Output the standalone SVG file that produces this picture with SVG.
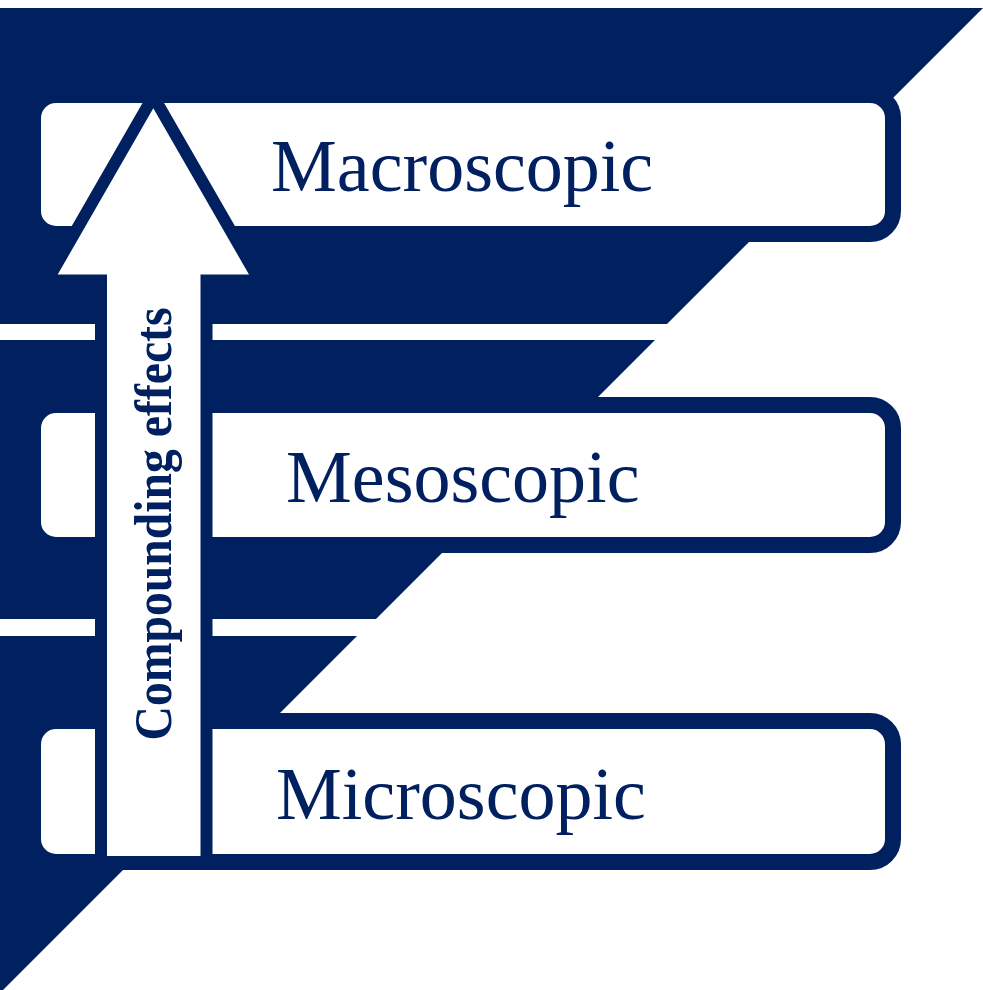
<svg xmlns="http://www.w3.org/2000/svg" width="983" height="990" viewBox="0 0 983 990">
  <style>
    .band { fill: #002060; }
    .box { fill: #ffffff; stroke: #002060; stroke-width: 16; }
    .label { font-family: "Liberation Serif", "Times New Roman", serif; font-size: 74px; fill: #002060; }
    .arrow-edge { fill: #002060; stroke: #002060; stroke-width: 24; stroke-linejoin: miter; stroke-miterlimit: 6; }
    .arrow-body { fill: #ffffff; stroke: none; }
    .arrow-text { font-family: "Liberation Serif", "Times New Roman", serif; font-size: 53px; font-weight: bold; fill: #002060; }
  </style>
  <defs>
    <polygon id="arrow-shape" points="107,856 107,274.5 57.7,274.5 153.3,108.3 249,274.5 200.5,274.5 200.5,856"/>
  </defs>

  <rect x="0" y="0" width="983" height="990" fill="#ffffff"/>

  <!-- stepped navy bands with 45-degree right edges -->
  <g id="bands">
    <polygon class="band" points="0,8 983,8 667,324 0,324"/>
    <polygon class="band" points="0,340 655,340 376,619 0,619"/>
    <polygon class="band" points="0,636 357,636 3,990 0,990"/>
  </g>

  <g id="macroscopic">
    <rect class="box" x="33" y="95" width="860" height="139" rx="23" ry="23"/>
    <text class="label" x="271" y="191">Macroscopic</text>
  </g>

  <g id="mesoscopic">
    <rect class="box" x="33" y="405" width="860" height="140" rx="23" ry="23"/>
    <text class="label" x="286" y="502">Mesoscopic</text>
  </g>

  <g id="microscopic">
    <rect class="box" x="33" y="721" width="860" height="141" rx="23" ry="23"/>
    <text class="label" x="276" y="819">Microscopic</text>
  </g>

  <!-- upward arrow across all three levels -->
  <g id="connectors">
    <use href="#arrow-shape" class="arrow-edge"/>
    <use href="#arrow-shape" class="arrow-body"/>
    <text class="arrow-text" x="171" y="740.5" transform="rotate(-90 171 740.5)" textLength="433" lengthAdjust="spacingAndGlyphs">Compounding effects</text>
  </g>
</svg>
